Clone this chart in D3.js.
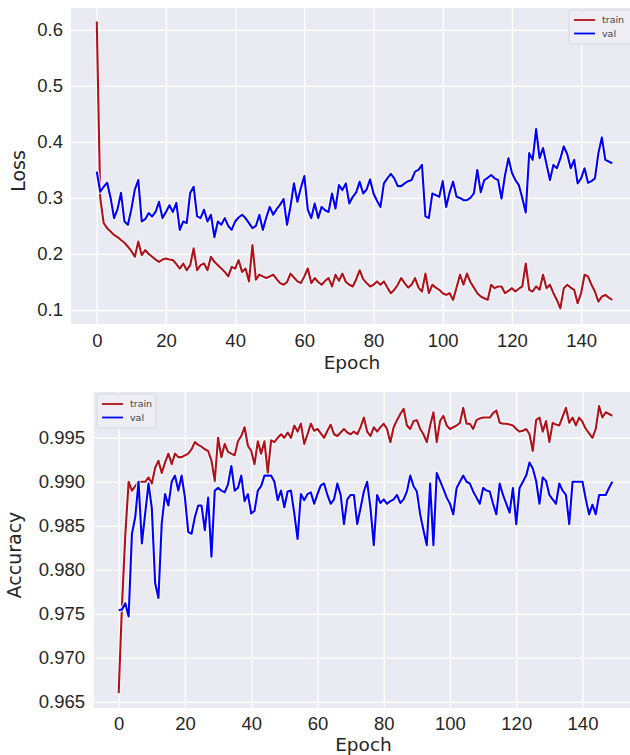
<!DOCTYPE html>
<html>
<head>
<meta charset="utf-8">
<script src="https://cdn.jsdelivr.net/npm/d3@7/dist/d3.min.js"></script>
<style>
  body { margin: 0; background: #fff; }
  svg { display: block; font-family: "DejaVu Sans", sans-serif; }
</style>
</head>
<body>
<div id="app"></div>
<script>
// values, one per epoch (0..149)
const lossTrain = [
  0.615, 0.300, 0.255, 0.246, 0.240, 0.234, 0.230, 0.225, 0.220, 0.213,
  0.205, 0.195, 0.222, 0.198, 0.207, 0.200, 0.195, 0.190, 0.186, 0.190,
  0.192, 0.190, 0.189, 0.182, 0.174, 0.183, 0.171, 0.180, 0.210, 0.171,
  0.180, 0.183, 0.171, 0.195, 0.186, 0.180, 0.174, 0.168, 0.160, 0.177,
  0.174, 0.189, 0.168, 0.174, 0.151, 0.216, 0.154, 0.163, 0.160, 0.157,
  0.160, 0.163, 0.155, 0.148, 0.145, 0.150, 0.165, 0.158, 0.151, 0.148,
  0.160, 0.174, 0.148, 0.157, 0.150, 0.145, 0.152, 0.157, 0.142, 0.163,
  0.152, 0.165, 0.150, 0.145, 0.142, 0.155, 0.171, 0.155, 0.148, 0.142,
  0.145, 0.151, 0.145, 0.151, 0.140, 0.130, 0.136, 0.145, 0.157, 0.148,
  0.140, 0.145, 0.157, 0.140, 0.133, 0.165, 0.130, 0.145, 0.140, 0.136,
  0.130, 0.127, 0.130, 0.118, 0.140, 0.163, 0.145, 0.165, 0.150, 0.140,
  0.130, 0.124, 0.121, 0.118, 0.145, 0.139, 0.142, 0.142, 0.130, 0.134,
  0.139, 0.133, 0.138, 0.142, 0.183, 0.136, 0.133, 0.142, 0.136, 0.163,
  0.139, 0.145, 0.130, 0.118, 0.103, 0.139, 0.145, 0.140, 0.136, 0.112,
  0.130, 0.163, 0.160, 0.145, 0.133, 0.115, 0.124, 0.127, 0.122, 0.118
];
const lossVal = [
  0.347, 0.311, 0.320, 0.327, 0.300, 0.264, 0.280, 0.309, 0.258, 0.252,
  0.280, 0.315, 0.332, 0.258, 0.262, 0.273, 0.267, 0.275, 0.293, 0.264,
  0.275, 0.287, 0.275, 0.291, 0.243, 0.258, 0.255, 0.309, 0.320, 0.267,
  0.264, 0.279, 0.258, 0.270, 0.230, 0.258, 0.252, 0.264, 0.250, 0.243,
  0.258, 0.265, 0.270, 0.264, 0.255, 0.246, 0.250, 0.270, 0.243, 0.265,
  0.284, 0.270, 0.280, 0.288, 0.298, 0.252, 0.285, 0.326, 0.293, 0.318,
  0.339, 0.279, 0.264, 0.290, 0.264, 0.284, 0.278, 0.275, 0.308, 0.281,
  0.323, 0.314, 0.326, 0.290, 0.302, 0.310, 0.329, 0.308, 0.315, 0.333,
  0.308, 0.295, 0.284, 0.326, 0.335, 0.343, 0.335, 0.321, 0.321, 0.326,
  0.330, 0.332, 0.347, 0.350, 0.359, 0.267, 0.264, 0.308, 0.305, 0.302,
  0.330, 0.284, 0.310, 0.329, 0.302, 0.300, 0.296, 0.296, 0.300, 0.308,
  0.350, 0.310, 0.332, 0.336, 0.341, 0.335, 0.332, 0.299, 0.340, 0.371,
  0.345, 0.332, 0.323, 0.300, 0.274, 0.380, 0.368, 0.423, 0.371, 0.389,
  0.360, 0.332, 0.359, 0.353, 0.370, 0.392, 0.378, 0.353, 0.368, 0.326,
  0.335, 0.353, 0.327, 0.330, 0.335, 0.380, 0.408, 0.368, 0.365, 0.362
];
const accTrain = [
  0.9660, 0.9760, 0.9840, 0.9900, 0.9890, 0.9895, 0.9900, 0.9900, 0.9900, 0.9905,
  0.9898, 0.9916, 0.9924, 0.9910, 0.9922, 0.9932, 0.9920, 0.9932, 0.9928, 0.9928,
  0.9930, 0.9932, 0.9937, 0.9945, 0.9942, 0.9940, 0.9937, 0.9935, 0.9924, 0.9901,
  0.9950, 0.9928, 0.9943, 0.9934, 0.9932, 0.9930, 0.9946, 0.9952, 0.9962, 0.9941,
  0.9935, 0.9920, 0.9946, 0.9932, 0.9946, 0.9910, 0.9947, 0.9945, 0.9950, 0.9954,
  0.9950, 0.9956, 0.9950, 0.9964, 0.9957, 0.9966, 0.9943, 0.9954, 0.9966, 0.9958,
  0.9960, 0.9955, 0.9950, 0.9958, 0.9965, 0.9954, 0.9952, 0.9956, 0.9960, 0.9956,
  0.9954, 0.9957, 0.9954, 0.9962, 0.9973, 0.9957, 0.9952, 0.9962, 0.9957, 0.9962,
  0.9966, 0.9960, 0.9945, 0.9962, 0.9970, 0.9977, 0.9983, 0.9964, 0.9960, 0.9969,
  0.9970, 0.9960, 0.9954, 0.9945, 0.9964, 0.9979, 0.9945, 0.9969, 0.9975, 0.9964,
  0.9960, 0.9962, 0.9964, 0.9967, 0.9984, 0.9966, 0.9966, 0.9960, 0.9970, 0.9972,
  0.9973, 0.9973, 0.9973, 0.9978, 0.9981, 0.9967, 0.9966, 0.9966, 0.9965, 0.9964,
  0.9960, 0.9957, 0.9958, 0.9960, 0.9954, 0.9935, 0.9970, 0.9973, 0.9957, 0.9969,
  0.9945, 0.9967, 0.9965, 0.9964, 0.9974, 0.9984, 0.9967, 0.9973, 0.9964, 0.9973,
  0.9968, 0.9960, 0.9955, 0.9950, 0.9960, 0.9986, 0.9973, 0.9979, 0.9977, 0.9975
];
const accVal = [
  0.9754, 0.9755, 0.9762, 0.9747, 0.9841, 0.9860, 0.9900, 0.9830, 0.9864, 0.9898,
  0.9870, 0.9785, 0.9768, 0.9853, 0.9886, 0.9873, 0.9900, 0.9907, 0.9890, 0.9907,
  0.9882, 0.9843, 0.9841, 0.9860, 0.9873, 0.9873, 0.9845, 0.9882, 0.9815, 0.9890,
  0.9893, 0.9890, 0.9888, 0.9897, 0.9918, 0.9890, 0.9893, 0.9907, 0.9878, 0.9886,
  0.9864, 0.9867, 0.9890, 0.9895, 0.9907, 0.9907, 0.9907, 0.9900, 0.9879, 0.9890,
  0.9871, 0.9889, 0.9890, 0.9864, 0.9835, 0.9886, 0.9879, 0.9886, 0.9888, 0.9875,
  0.9886, 0.9896, 0.9898, 0.9885, 0.9875, 0.9880, 0.9898, 0.9885, 0.9852, 0.9880,
  0.9885, 0.9885, 0.9852, 0.9870, 0.9889, 0.9900, 0.9870, 0.9828, 0.9885, 0.9876,
  0.9880, 0.9875, 0.9878, 0.9880, 0.9885, 0.9876, 0.9880, 0.9889, 0.9907, 0.9895,
  0.9889, 0.9863, 0.9845, 0.9828, 0.9898, 0.9828, 0.9910, 0.9901, 0.9892, 0.9882,
  0.9875, 0.9863, 0.9893, 0.9900, 0.9907, 0.9900, 0.9898, 0.9889, 0.9882, 0.9875,
  0.9893, 0.9890, 0.9889, 0.9875, 0.9863, 0.9898, 0.9885, 0.9875, 0.9865, 0.9893,
  0.9852, 0.9893, 0.9900, 0.9907, 0.9922, 0.9915, 0.9901, 0.9875, 0.9905, 0.9901,
  0.9885, 0.9880, 0.9875, 0.9898, 0.9890, 0.9885, 0.9852, 0.9900, 0.9900, 0.9900,
  0.9900, 0.9880, 0.9863, 0.9874, 0.9863, 0.9885, 0.9885, 0.9885, 0.9893, 0.9900
];
const epochs = d3.range(lossTrain.length);
const seriesNames = ["train", "val"];
const epochTicks = [0, 20, 40, 60, 80, 100, 120, 140];
const lossTicks = [0.1, 0.2, 0.3, 0.4, 0.5, 0.6];
const accTicks = [0.965, 0.970, 0.975, 0.980, 0.985, 0.990, 0.995];

const width = 630;
const height = 755;
const colors = ["#b0121b", "#0000ff"];
const bg = "#eaeaf2";
const ink = "#262626";

const svg = d3.select("#app").append("svg").attr("width", width).attr("height", height);

function drawPanel(p) {
  const x = d3.scaleLinear().domain([-7.45, 156.45]).range([p.left, p.right]);
  const y = d3.scaleLinear().domain(p.yDomain).range([p.bottom, p.top]);
  const g = svg.append("g");

  // PLOT BACKGROUND
  g.append("rect")
    .attr("x", p.left)
    .attr("y", p.top)
    .attr("width", p.right - p.left)
    .attr("height", p.bottom - p.top)
    .attr("fill", bg);

  // GRID + TICK LABELS
  const xAxis = g
    .append("g")
    .attr("transform", `translate(0,${p.bottom})`)
    .call(d3.axisBottom(x).tickValues(epochTicks).tickSize(-(p.bottom - p.top)).tickPadding(p.xPad));
  const yAxis = g
    .append("g")
    .attr("transform", `translate(${p.left},0)`)
    .call(
      d3.axisLeft(y).tickValues(p.yTicks).tickFormat(d3.format(p.yFormat)).tickSize(-(p.right - p.left)).tickPadding(p.yPad)
    );
  [xAxis, yAxis].forEach(a => {
    a.select(".domain").remove();
    a.selectAll("line").attr("stroke", "#fff").attr("stroke-width", 1.3);
    a.selectAll("text").attr("fill", ink).style("font-size", "18.5px");
  });

  // LINES (light halo under each, as in the picture)
  const line = d3
    .line()
    .x((d, i) => x(epochs[i]))
    .y(d => y(d));
  p.series.forEach((s, k) => {
    g.append("path")
      .attr("d", line(s))
      .attr("fill", "none")
      .attr("stroke", "#fff")
      .attr("stroke-opacity", 0.75)
      .attr("stroke-width", 4.4)
      .attr("stroke-linejoin", "round");
    g.append("path")
      .attr("d", line(s))
      .attr("fill", "none")
      .attr("stroke", colors[k])
      .attr("stroke-width", 2.1)
      .attr("stroke-linejoin", "round");
  });

  // AXIS TITLES
  g.append("text")
    .attr("x", (p.left + 637) / 2 - 2)
    .attr("y", p.bottom + p.titleDy)
    .attr("text-anchor", "middle")
    .attr("fill", ink)
    .style("font-size", "18.5px")
    .text("Epoch");
  g.append("text")
    .attr("transform", `translate(${p.yLabelX},${(p.top + p.bottom) / 2 + 5}) rotate(-90)`)
    .attr("text-anchor", "middle")
    .attr("fill", ink)
    .style("font-size", "19px")
    .text(p.yLabel);

  // LEGEND
  const lg = g.append("g").attr("transform", `translate(${p.legend[0]},${p.legend[1]})`);
  lg.append("rect")
    .attr("width", p.legendW)
    .attr("height", 34)
    .attr("rx", 2)
    .attr("fill", "#ededf3")
    .attr("stroke", "#d2d2da")
    .attr("stroke-width", 0.8);
  seriesNames.forEach((name, k) => {
    const yy = 10 + k * 13.5;
    lg.append("line")
      .attr("x1", 5)
      .attr("x2", 26)
      .attr("y1", yy)
      .attr("y2", yy)
      .attr("stroke", colors[k])
      .attr("stroke-width", 1.8);
    lg.append("text")
      .attr("x", 33)
      .attr("y", yy)
      .attr("dy", "0.35em")
      .attr("fill", "#444")
      .style("font-size", "9.5px")
      .text(name);
  });
}

drawPanel({
  left: 71,
  right: 638,
  top: 8,
  bottom: 324,
  yDomain: [0.075, 0.639],
  yTicks: lossTicks,
  yFormat: ".1f",
  xPad: 10,
  yPad: 8,
  titleDy: 45,
  yLabel: "Loss",
  yLabelX: 25,
  series: [lossTrain, lossVal],
  legend: [569, 10],
  legendW: 70
});

drawPanel({
  left: 94,
  right: 637,
  top: 392,
  bottom: 708,
  yDomain: [0.9643, 1.0002],
  yTicks: accTicks,
  yFormat: ".3f",
  xPad: 9,
  yPad: 9,
  titleDy: 43,
  yLabel: "Accuracy",
  yLabelX: 21,
  series: [accTrain, accVal],
  legend: [97, 394],
  legendW: 59
});
</script>
</body>
</html>
